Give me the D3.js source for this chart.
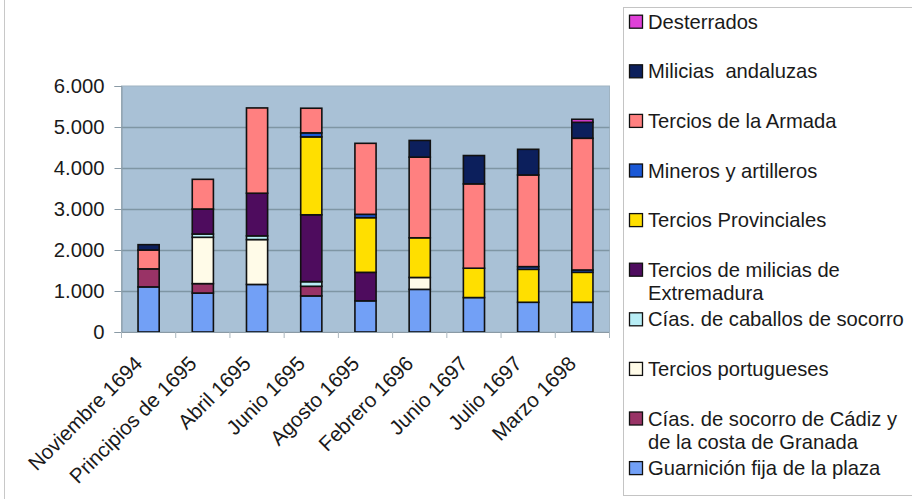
<!DOCTYPE html>
<html>
<head>
<meta charset="utf-8">
<script src="https://cdn.jsdelivr.net/npm/d3@7"></script>
<style>
  html, body { margin: 0; padding: 0; background: #fff; }
  svg { display: block; font-family: "Liberation Sans", Arial, sans-serif; }
</style>
</head>
<body>
<svg id="chart" width="912" height="499"></svg>
<script>
// ---- data ----
const categories = ["Noviembre 1694", "Principios de 1695", "Abril 1695", "Junio 1695", "Agosto 1695",
  "Febrero 1696", "Junio 1697", "Julio 1697", "Marzo 1698"];

// stack order bottom -> top
const seriesNames = ["Guarnición fija de la plaza", "Cías. de socorro de Cádiz y de la costa de Granada",
  "Tercios portugueses", "Cías. de caballos de socorro", "Tercios de milicias de Extremadura",
  "Tercios Provinciales", "Mineros y artilleros", "Tercios de la Armada", "Milicias  andaluzas", "Desterrados"];

const guarnicion   = [1100, 950, 1160, 880, 760, 1040, 840, 725, 725];
const ciasSocorro  = [440, 230, 0, 235, 0, 0, 0, 0, 0];
const portugueses  = [0, 1130, 1095, 0, 0, 290, 0, 0, 0];
const caballos     = [0, 80, 90, 112, 0, 0, 0, 0, 0];
const extremadura  = [0, 610, 1040, 1632, 695, 0, 0, 0, 0];
const provinciales = [0, 0, 0, 1900, 1334, 968, 716, 804, 731];
const mineros      = [0, 0, 0, 98, 81, 0, 0, 65, 57];
const armada       = [460, 724, 2080, 601, 1732, 1967, 2057, 2236, 3212];
const milicias     = [130, 0, 0, 0, 0, 407, 691, 626, 390];
const desterrados  = [0, 0, 0, 0, 0, 0, 0, 0, 73];

const yTicks = [0, 1000, 2000, 3000, 4000, 5000, 6000];

// legend labels split into lines
const legendLines = {
  "Tercios de milicias de Extremadura": ["Tercios de milicias de", "Extremadura"],
  "Cías. de socorro de Cádiz y de la costa de Granada": ["Cías. de socorro de Cádiz y", "de la costa de Granada"]
};

const colors = ["#72a0f6", "#993366", "#fffbe8", "#b8eef6", "#4e0c5e",
  "#ffdf00", "#1a58d6", "#ff8080", "#0c1f5c", "#e040d8"];

const seriesValues = [guarnicion, ciasSocorro, portugueses, caballos, extremadura,
  provinciales, mineros, armada, milicias, desterrados];

// ---- build table ----
const keys = seriesNames;
const table = categories.map((c, i) => {
  const row = { cat: c };
  keys.forEach((k, j) => row[k] = seriesValues[j][i]);
  return row;
});
const stacked = d3.stack().keys(keys)(table);

// ---- layout ----
const svg = d3.select("#chart");
const plot = { left: 121.5, right: 609.5, top: 86, bottom: 332 };

const x = d3.scaleBand().domain(categories).range([plot.left, plot.right]).paddingInner(0.61).paddingOuter(0.305);
const xBand = d3.scaleBand().domain(categories).range([plot.left, plot.right]);
const y = d3.scaleLinear().domain([0, 6000]).range([plot.bottom, plot.top]);

const loc = d3.formatLocale({ decimal: ",", thousands: ".", grouping: [3], currency: ["", "€"] });
const fmt = loc.format(",d");

// outer frame line on left
svg.append("line").attr("x1", 4.5).attr("x2", 4.5).attr("y1", 0).attr("y2", 499)
  .attr("stroke", "#c8c8c8").attr("stroke-width", 1);

// plot background
svg.append("rect").attr("x", plot.left).attr("y", plot.top)
  .attr("width", plot.right - plot.left).attr("height", plot.bottom - plot.top)
  .attr("fill", "#a9c1d6").attr("stroke", "#9fb3c2").attr("stroke-width", 1);

// gridlines
svg.append("g").selectAll("line").data(yTicks.filter(t => t > 0 && t < 6000)).join("line")
  .attr("x1", plot.left).attr("x2", plot.right)
  .attr("y1", d => Math.round(y(d)) + 0.5).attr("y2", d => Math.round(y(d)) + 0.5)
  .attr("stroke", "#7f96a4").attr("stroke-width", 1.5);

// bars
svg.append("g").selectAll("g").data(stacked).join("g")
  .attr("fill", (d, i) => colors[i])
  .selectAll("rect").data(d => d.filter(s => s[1] - s[0] > 0)).join("rect")
  .attr("x", d => x(d.data.cat))
  .attr("width", x.bandwidth())
  .attr("y", d => y(d[1]))
  .attr("height", d => y(d[0]) - y(d[1]))
  .attr("stroke", "#111").attr("stroke-width", 1.6);

// y axis
const yAxis = d3.axisLeft(y).tickValues(yTicks).tickFormat(fmt).tickSize(7).tickPadding(10);
const gy = svg.append("g").attr("transform", `translate(${plot.left},0)`).call(yAxis);
gy.select(".domain").attr("stroke", "#8a9aa5");
gy.selectAll(".tick line").attr("stroke", "#8a9aa5");
gy.selectAll(".tick text").attr("font-size", 20.3).attr("fill", "#1a1a1a")
  .attr("font-family", "'Liberation Sans', Arial, sans-serif");

// x axis
const xAxis = d3.axisBottom(xBand).tickSize(0).tickFormat("");
const gx = svg.append("g").attr("transform", `translate(0,${plot.bottom})`).call(xAxis);
gx.select(".domain").attr("stroke", "#8a9aa5");
// boundary ticks
const bounds = categories.map(c => xBand(c)).concat([plot.right]);
gx.selectAll(".btick").data(bounds).join("line").attr("class", "btick")
  .attr("x1", d => d).attr("x2", d => d).attr("y1", 0).attr("y2", 6)
  .attr("stroke", "#aab6be").attr("stroke-width", 1);
// rotated labels
svg.append("g").selectAll("text").data(categories).join("text")
  .attr("transform", d => `translate(${xBand(d) + xBand.bandwidth() / 2 - 5},365) rotate(-45)`)
  .attr("text-anchor", "end")
  .attr("font-size", 20.6).attr("fill", "#1a1a1a")
  .text(d => d);

// legend
svg.append("rect").attr("x", 623.5).attr("y", 7.5).attr("width", 400).attr("height", 488)
  .attr("fill", "#fff").attr("stroke", "#c4c4c4").attr("stroke-width", 1);

const legendOrder = seriesNames.map((n, i) => ({ name: n, color: colors[i] })).reverse();
const lg = svg.append("g").selectAll("g").data(legendOrder).join("g")
  .attr("transform", (d, i) => `translate(629,${21.7 + i * 49.6})`);
lg.append("rect").attr("x", 0.5).attr("y", -6.5).attr("width", 13).attr("height", 13)
  .attr("fill", d => d.color).attr("stroke", "#111").attr("stroke-width", 1.3);
lg.append("text").attr("x", 19).attr("y", 7).attr("font-size", 20.2).attr("fill", "#1a1a1a")
  .style("white-space", "pre")
  .each(function (d) {
    const lines = legendLines[d.name] || [d.name];
    const t = d3.select(this);
    lines.forEach((l, k) => t.append("tspan").attr("x", 19).attr("dy", k === 0 ? 0 : 23.5).text(l));
  });
</script>
</body>
</html>
